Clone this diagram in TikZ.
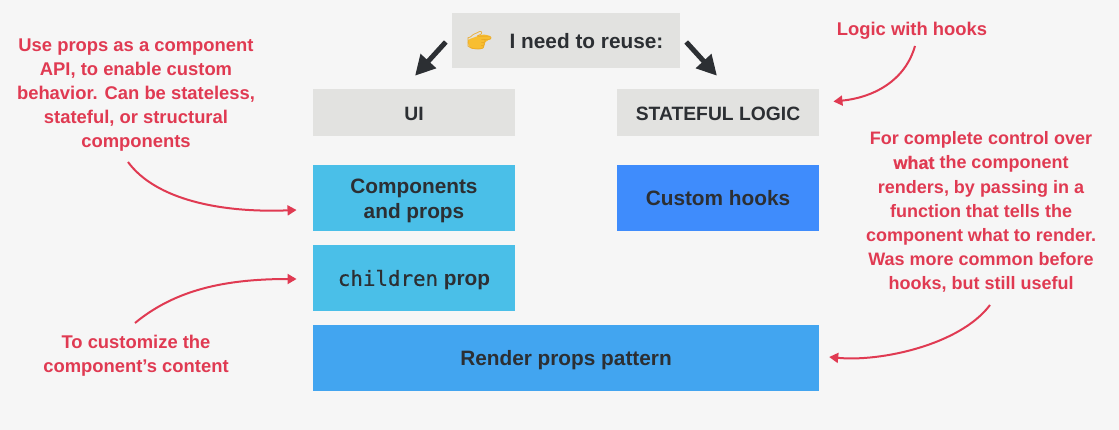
\documentclass[tikz,border=0pt]{standalone}
\usepackage{fontspec}
\setmainfont{Liberation Sans}
\newfontfamily\emojifont{Noto Emoji}
\newfontfamily\codefont[FakeBold=0.5]{DejaVu Sans Mono}
\newfontfamily\whatfont[UprightFont=* Bold,FakeBold=0.35]{Liberation Sans}
\usetikzlibrary{arrows.meta}
\definecolor{bgc}{HTML}{F6F6F6}
\definecolor{greyc}{HTML}{E2E2E0}
\definecolor{cyanc}{HTML}{4ABFE8}
\definecolor{bluec}{HTML}{3F8CFC}
\definecolor{skyc}{HTML}{42A5F0}
\definecolor{darkc}{HTML}{2C2F33}
\definecolor{redc}{HTML}{E03A52}
\definecolor{handc}{HTML}{F8BE30}
\definecolor{handl}{HTML}{EBA824}
\newcommand{\tdn}[1]{\rule{0pt}{#1pt}}
\tikzset{
 x=1pt,y=-1pt,
 boxn/.style={inner sep=0pt,minimum width=202.5pt,minimum height=66pt,align=center,text=darkc,
   font=\fontsize{20.8}{25}\selectfont\bfseries},
 greyb/.style={boxn,fill=greyc,minimum height=47pt,font=\fontsize{19.3}{25}\selectfont\bfseries},
 note/.style={inner sep=0pt,align=center,text=redc,font=\fontsize{18.4}{24.1}\selectfont\bfseries},
 redarrow/.style={draw=redc,line width=2pt,-{Triangle[length=9pt,width=10pt]}},
 blackarrow/.style={draw=darkc,line width=5pt,-{Triangle[length=20pt,width=20pt]}},
}
\begin{document}
\begin{tikzpicture}
\useasboundingbox[fill=bgc] (0,0) rectangle (1119,430);
\node[greyb,minimum width=228pt,minimum height=55pt] (top) at (566,40.5) {};
\fill[handc,rounded corners=3pt] (467,40) -- (478,36) -- (484,34) -- (492,37) -- (490,40) -- (485,41) -- (484,49) -- (470,49) -- cycle;
\node[text=handl,inner sep=0pt,font=\fontsize{20}{20}\selectfont\emojifont] (hand) at (479.5,40.5) {👉};
\node[inner sep=0pt,text=darkc,font=\fontsize{20.8}{25}\selectfont\bfseries] (need) at (586.5,41) {I need to reuse:};
\node[greyb] (ui) at (414,112.5) {\tdn{16}UI};
\node[greyb] (logic) at (718,112.5) {\tdn{16}STATEFUL LOGIC};
\node[boxn,fill=cyanc] (comp) at (414,198) {\tdn{21}Components\\and props};
\node[boxn,fill=cyanc] (child) at (414,278) {\tdn{20}{\codefont\mdseries children} prop};
\node[boxn,fill=bluec] (hooks) at (718,198) {Custom hooks};
\node[boxn,fill=skyc,minimum width=506pt] (render) at (566,358) {\tdn{19}Render props pattern};
\node[note] (n1) at (136,95) {Use props as a component\\API, to enable custom\\behavior. Can be stateless,\\stateful, or structural\\components};
\node[note] (n2) at (136,356) {To customize the\\component’s content};
\node[note] (n3) at (912,31) {Logic with hooks};
\node[note,font=\fontsize{18}{24.1}\selectfont\bfseries] (n4) at (981,212) {For complete control over\\{\whatfont\mdseries what} the component\\renders, by passing in a\\function that tells the\\component what to render.\\Was more common before\\hooks, but still useful};
\draw[blackarrow] ([shift={(-6,1.5)}]top.west) -- ([shift={(1,-13)}]ui.north);
\draw[blackarrow] ([shift={(6,1.5)}]top.east) -- ([shift={(-1,-13)}]logic.north);
\draw[redarrow] ([shift={(-8,67)}]n1.center) .. controls +(28,38) and +(-75,3) .. ([shift={(-16,12)}]comp.west);
\draw[redarrow] ([shift={(-1,-33)}]n2.center) .. controls +(40,-33) and +(-72,0) .. ([shift={(-16,1)}]child.west);
\draw[redarrow] ([shift={(3,15)}]n3.center) .. controls +(-10,35) and +(40,-4) .. ([shift={(14,-11)}]logic.east);
\draw[redarrow] ([shift={(9,93)}]n4.center) .. controls +(-30,40) and +(51,5) .. ([shift={(10,-1)}]render.east);
\end{tikzpicture}
\end{document}
